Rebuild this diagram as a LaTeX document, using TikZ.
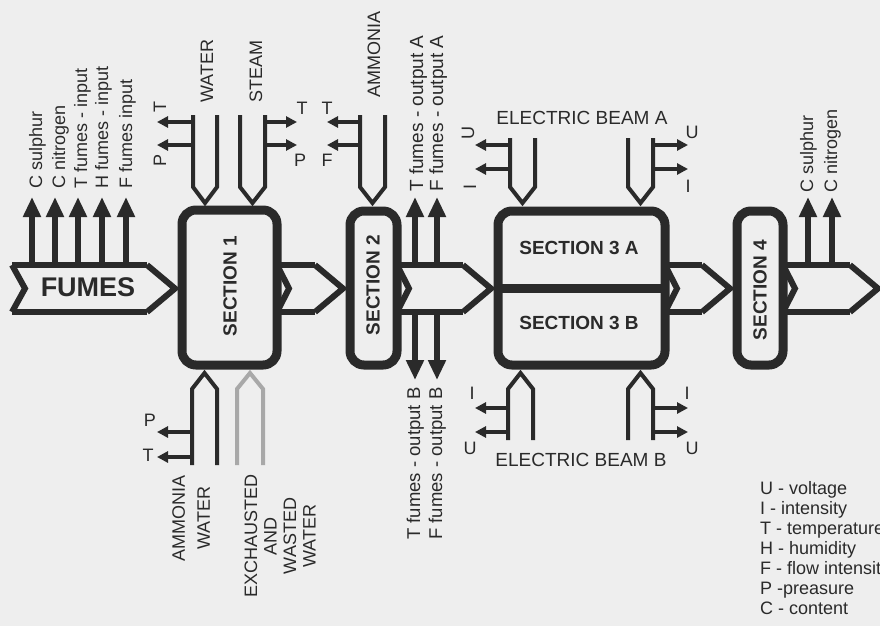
\documentclass[tikz,border=0pt]{standalone}
\usepackage{fontspec}
\setmainfont{Liberation Sans}
\usetikzlibrary{arrows.meta,calc}
\definecolor{ink}{RGB}{42,42,42}
\definecolor{paper}{RGB}{238,238,238}
\definecolor{pale}{RGB}{168,168,168}
\newcommand\mkband[3]{%
  \draw[band] (#1 |- yt) -- ($(#2 |- yt)+(-35,0)$);
  \draw[band] (#1 |- yb) -- ($(#2 |- yb)+(-35,0)$);
  \draw[band,line join=miter] ($(#2 |- yt)+(-35,0)$) -- ($(#2 |- ym)+(-7,0)$) -- ($(#2 |- yb)+(-35,0)$);
  \draw[band,line join=miter] (#1 |- yt) -- ($(#1 |- ym)+(#3,0)$) -- (#1 |- yb);
}
\newcommand\feedpair[5]{% style, xl, xr, far end y, vertex y
  \draw[#1] (#2,#4) -- (#2,{#5+(#4-#5)/abs(#4-#5)*16}) -- ({(#2+#3)/2},#5) -- (#3,{#5+(#4-#5)/abs(#4-#5)*16}) -- (#3,#4);
}
\begin{document}
\begin{tikzpicture}[x=1pt,y=-1pt,
  box/.style={draw=ink,line width=9pt,rounded corners=14pt,fill=paper,outer sep=0pt,inner sep=0pt},
  band/.style={draw=ink,line width=6pt},
  upar/.style={draw=ink,line width=6pt,-{Triangle[width=17pt,length=20pt]}},
  feed/.style={draw=ink,line width=4pt,line join=miter},
  palefeed/.style={feed,draw=pale},
  tap/.style={draw=ink,line width=3.5pt,-{Triangle[width=11pt,length=11pt]}},
  lab/.style={font=\fontsize{18}{20}\selectfont,text=ink,inner sep=0pt},
  vlab/.style={lab,rotate=90,anchor=base west},
  sect/.style={font=\bfseries\fontsize{19}{20}\selectfont,text=ink,inner sep=0pt},
]
\fill[paper] (0,0) rectangle (880,626);
\useasboundingbox (0,0) rectangle (880,626);

\coordinate (yt) at (0,265);
\coordinate (yb) at (0,312);
\coordinate (ym) at (0,288.5);
\coordinate (fin) at (12,288.5);
\coordinate (exit) at (885,288.5);

% sections
\node[box,minimum width=95pt,minimum height=155pt] (s1) at (229.5,287.5) {};
\node[box,minimum width=47pt,minimum height=154pt] (s2) at (373.5,288) {};
\node[box,minimum width=167pt,minimum height=154pt] (s3) at (581.5,288) {};
\node[box,minimum width=46pt,minimum height=154pt] (s4) at (760,288) {};
\draw[ink,line width=9pt] (s3.west) -- (s3.east);

\node[sect,rotate=90] (t1) at (230,286) {SECTION 1};
\node[sect,rotate=90] (t2) at (373,285) {SECTION 2};
\node[sect] (t3a) at (579,248) {SECTION 3 A};
\node[sect] (t3b) at (579,323) {SECTION 3 B};
\node[sect,rotate=90] (t4) at (760,290) {SECTION 4};

% fume bands
\mkband{fin}{s1.west}{13}
\mkband{s1.east}{s2.west}{12}
\mkband{s2.east}{s3.west}{12}
\mkband{s3.east}{s4.west}{12}
\mkband{s4.east}{exit}{12}
\node[font=\bfseries\fontsize{27}{28}\selectfont,text=ink,inner sep=0pt] (fumes) at (88,287.5) {FUMES};

% measurement arrows
\foreach \x in {32,55,78,102,126} \draw[upar] (\x,265) -- (\x,197);
\foreach \x in {415,437} {\draw[upar] (\x,265) -- (\x,197); \draw[upar] (\x,312) -- (\x,380);}
\foreach \x in {808,832} \draw[upar] (\x,265) -- (\x,197);

\foreach \x/\t in {42/C sulphur,65/C nitrogen,87/T fumes - input,108/H fumes - input,132/F fumes input}
  \node[vlab] at (\x,189) {\t};
\node[vlab,font=\fontsize{19}{20}\selectfont] (lo1) at (423,192) {T fumes - output A};
\node[vlab,font=\fontsize{19}{20}\selectfont] (lo2) at (443,192) {F fumes - output A};
\node[vlab,font=\fontsize{18.5}{20}\selectfont] (lo3) at (420,540) {T fumes - output B};
\node[vlab,font=\fontsize{18.5}{20}\selectfont] (lo4) at (442,540) {F fumes - output B};
\node[vlab] (lc1) at (813,193) {C sulphur};
\node[vlab] (lc2) at (837,193) {C nitrogen};

% feeds
\feedpair{feed}{193}{217}{115}{203}
\feedpair{feed}{240}{265}{115}{203}
\feedpair{feed}{360}{385}{115}{203}
\feedpair{feed}{510}{535}{138}{203}
\feedpair{feed}{628}{653}{138}{203}
\feedpair{feed}{508}{533}{440}{373}
\feedpair{feed}{628}{653}{440}{373}
\feedpair{feed}{192}{217}{465}{373}
\feedpair{palefeed}{237}{263}{465}{373}

\node[vlab] (lw) at (213,103) {WATER};
\node[vlab] (ls) at (262,103) {STEAM};
\node[vlab] (la) at (380,98) {AMMONIA};
\node[lab,font=\fontsize{19}{20}\selectfont] (lba) at (582,118) {ELECTRIC BEAM A};
\node[lab,font=\fontsize{19}{20}\selectfont] (lbb) at (581,460) {ELECTRIC BEAM B};
\node[lab,rotate=90,align=center,font=\fontsize{18}{25}\selectfont] (amw) at (191,518) {AMMONIA\\WATER};
\node[lab,rotate=90,align=center,font=\fontsize{18}{19.5}\selectfont] (exw) at (280,536) {EXCHAUSTED\\AND\\WASTED\\WATER};

% taps
\foreach \y in {122,145} {\draw[tap] (193,\y) -- (157,\y); \draw[tap] (265,\y) -- (297,\y); \draw[tap] (360,\y) -- (327,\y);}
\foreach \y in {145,169} {\draw[tap] (510,\y) -- (475,\y); \draw[tap] (653,\y) -- (688,\y);}
\foreach \y in {408,432} {\draw[tap] (508,\y) -- (475,\y); \draw[tap] (653,\y) -- (688,\y);}
\foreach \y in {432,457} {\draw[tap] (192,\y) -- (157,\y);}

\node[lab,rotate=90] at (160,107) {T};
\node[lab,rotate=90] at (160,160) {P};
\node[lab] at (302,108) {T};
\node[lab] at (300,160) {P};
\node[lab] at (327,108) {T};
\node[lab] at (327,160) {F};
\node[lab,rotate=90] at (468,133) {U};
\node[lab,rotate=90] at (470,187) {I};
\node[lab] at (692,132) {U};
\node[lab] at (688,186) {I};
\node[lab] at (472,393) {I};
\node[lab] at (470,448) {U};
\node[lab] at (687,393) {I};
\node[lab] at (692,448) {U};
\node[lab] at (150,420) {P};
\node[lab] at (148,455) {T};

% legend (cut off at the right edge, as in the reference)
\foreach \i/\t in {0/U - voltage,1/I - intensity,2/T - temperature,3/H - humidity,4/F - flow intensity,5/P -preasure,6/C - content}
  \node[lab,anchor=base west] (leg\i) at (760,{494+20*\i}) {\t};
\end{tikzpicture}
\end{document}
